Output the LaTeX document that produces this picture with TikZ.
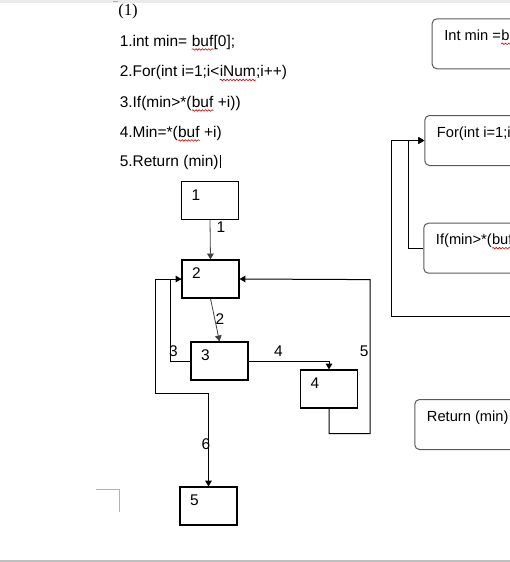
\documentclass[tikz,border=0pt]{standalone}
\usepackage{fontspec}
\setmainfont{Liberation Sans}
\newfontfamily\numfont{Liberation Serif}
\usetikzlibrary{positioning,arrows.meta,decorations.pathmorphing}

\tikzset{squig/.style={draw=red!85!black, line width=0.45pt, decorate,
  decoration={snake, amplitude=0.6pt, segment length=2.4pt}}}
\newcommand\spellmark[1]{\tikz[baseline=(sw.base)]{\node[inner sep=0pt, outer sep=0pt] (sw) {#1};
  \draw[squig] ([yshift=-2.6pt]sw.base west) -- ([yshift=-2.6pt]sw.base east);}}

\begin{document}
\begin{tikzpicture}[
  x=0.75pt, y=-0.75pt,
  font=\fontsize{11.6}{13}\selectfont,
  txt/.style={anchor=base west, inner sep=0pt},
  blk/.style={rectangle, draw=black, line width=0.9pt, minimum width=42.75pt,
              minimum height=28.5pt, inner sep=0pt, label={[nlbl]north west:#1}},
  nlbl/.style={anchor=base west, inner sep=0pt, xshift=7.9pt, yshift=-14.6pt},
  rbox/.style={rectangle, rounded corners=3.5pt, draw=black!65, line width=0.75pt,
               minimum width=105pt, minimum height=37.5pt, anchor=north west,
               label={[rlbl]north west:#1}},
  rlbl/.style={anchor=base west, inner sep=0pt, xshift=9.3pt, yshift=-16.5pt,
               font=\fontsize{11}{13}\selectfont},
  arr/.style={-{Triangle[length=4.4pt, width=5pt]}, line width=0.75pt},
  thin/.style={arr, draw=black!75, line width=0.6pt},
  elbl/.style={anchor=base west, inner sep=0pt},
  pagemark/.style={draw=black!30, line width=0.75pt}
]
\useasboundingbox (0,0) rectangle (510,562);
\clip (0,0) rectangle (510,562);

% page edges
\fill[black!8] (0,0) rectangle (510,2.5);
\fill[black!25] (0,559.5) rectangle (510,562);
\draw[pagemark] (113,1) -- (118,1);
\draw[pagemark] (96,489) -- (119.3,489) -- (119.3,512);

% code lines
\node[txt] (l0) at (118,15) {\numfont\fontsize{12.5}{14}\selectfont (1)};
\node[txt] (l1) at (119.5,46) {1.int min= \spellmark{buf}[0];};
\node[txt] (l2) at (119.5,76.5) {2.For(int i=1;i<\spellmark{iNum};i++)};
\node[txt] (l3) at (119.5,107) {3.If(min>*(\spellmark{buf} +i))};
\node[txt] (l4) at (119.5,137) {4.Min=*(\spellmark{buf} +i)};
\node[txt] (l5) at (119.5,166.5) {5.Return (min)};
\draw[line width=1.2pt] ([xshift=1.1pt, yshift=-0.8pt]l5.base east) -- ++(0,-12.5);

% flow graph
\node[blk=1] (b1) at (210,200.5) {};
\node[blk=2] (b2) at (210.5,279) {};
\node[blk=3] (b3) at (219.5,361) {};
\node[blk=4] (b4) at (329,389) {};
\node[blk=5] (b5) at (208.5,506) {};

\draw[thin] (b1.south) -- node[elbl, pos=0.31, xshift=4.5pt] (t1) {1} (b2.north);
\draw[thin] (b2.south) -- node[elbl, pos=0.61, xshift=-0.5pt] (t2) {2} (b3.north);
\draw[arr] (b3.west) -- ++(-20,0) -- ++(0,-82) node[elbl, pos=0.06, xshift=-1.3pt] (t3) {3} -- (b2.west);
\draw[arr] (b3.east) -| node[elbl, pos=0.156, yshift=3.75pt] (t4) {4} (b4.north);
\draw[arr] (b4.south) -- ++(0,25) -- ++(41,0) -- ++(0,-154) node[elbl, pos=0.5, xshift=-8pt] (t5) {5} -- (b2.east);
\draw[arr] (b2.west) -- ++(-26,0) -- ++(0,114) -| node[elbl, pos=0.8, xshift=-5.6pt] (t6) {6} (b5.north);

% statement boxes
\node[rbox={Int min =\spellmark{buf}[0];}] (rA) at (431.7,18.3) {};
\node[rbox={For(int i=1;i<\spellmark{iNum};i++)}] (rB) at (424.3,115) {};
\node[rbox={If(min>*(\spellmark{buf} +i))}] (rC) at (423.3,222.7) {};
\node[rbox={Return (min)}] (rD) at (414.3,399) {};

\coordinate (exitR) at (520,316);
\draw[arr] (rC.west) -- ++(-15,0) |- (rB.west);
\draw[arr] (exitR) -- ++(-128.3,0) |- (rB.west);
\end{tikzpicture}
\end{document}
